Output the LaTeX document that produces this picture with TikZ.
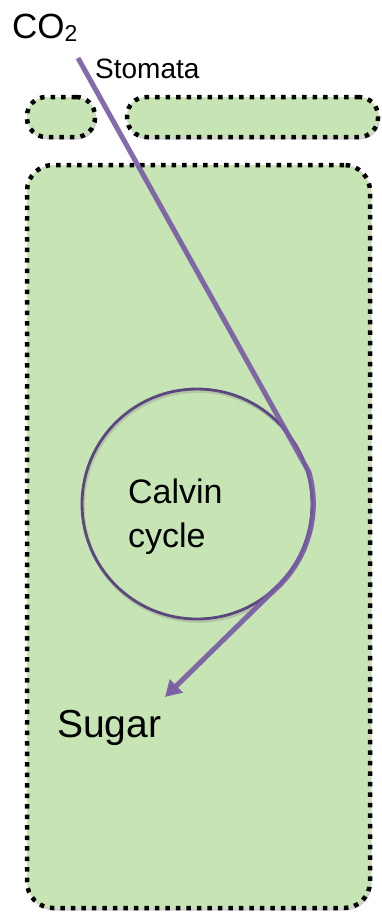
\documentclass[tikz,border=0pt]{standalone}
\usepackage{fontspec}
\setmainfont{Liberation Sans}
\usetikzlibrary{shadows,arrows.meta}
\definecolor{leaf}{RGB}{198,228,180}
\definecolor{arrowpurple}{RGB}{120,90,164}
\definecolor{ringpurple}{RGB}{92,70,126}
\tikzset{
  cellbox/.style={rectangle, draw=black, fill=leaf, line width=4.5pt,
    dash pattern=on 4.5pt off 6pt,
    drop shadow={shadow xshift=1.5pt, shadow yshift=-2.5pt, opacity=.3, fill=black!60},
    inner sep=0pt},
  ring/.style={circle, draw=ringpurple, line width=2.8pt, inner sep=0pt,
    preaction={draw=black!45, opacity=.35, line width=3.5pt, transform canvas={xshift=1pt, yshift=-2pt}}},
  flow/.style={draw=arrowpurple, line width=5pt, opacity=.9,
    -{Triangle[length=16pt,width=18pt]}},
  lbl/.style={inner sep=0pt, text=black},
}
\begin{document}
\begin{tikzpicture}[x=1pt,y=1pt]
\useasboundingbox (0,0) rectangle (381,-913);
% cell walls
\node[cellbox, rounded corners=19pt, minimum width=68pt, minimum height=40pt] (guardL) at (61,-117) {};
\node[cellbox, rounded corners=19pt, minimum width=251pt, minimum height=40pt] (guardR) at (252.5,-117) {};
\node[cellbox, rounded corners=26pt, minimum width=343pt, minimum height=743pt] (cell) at (198.5,-536.5) {};
% Calvin cycle
\node[ring, minimum size=230pt] (calvin) at (197,-504) {};
\node[lbl, anchor=base west, font=\fontsize{34}{40}\selectfont] (calvinA) at (128,-503) {Calvin};
\node[lbl, anchor=base west, font=\fontsize{34}{40}\selectfont] (calvinB) at (128,-547) {cycle};
% labels
\node[lbl, anchor=base west, font=\fontsize{35}{42}\selectfont] (co2) at (12,-38) {CO\raisebox{-3pt}{\fontsize{23}{26}\selectfont 2}};
\node[lbl, anchor=base west, font=\fontsize{28}{34}\selectfont] (stomata) at (95,-78) {Stomata};
\node[lbl, anchor=base west, font=\fontsize{39}{46}\selectfont] (sugar) at (57,-737) {Sugar};
% flow arrow
\coordinate (start) at (78,-58);
\coordinate (tip) at (165,-697);
\draw[flow] (start) -- (calvin.16) arc[start angle=16, end angle=-48.5, radius=115pt] -- (tip);
\end{tikzpicture}
\end{document}
